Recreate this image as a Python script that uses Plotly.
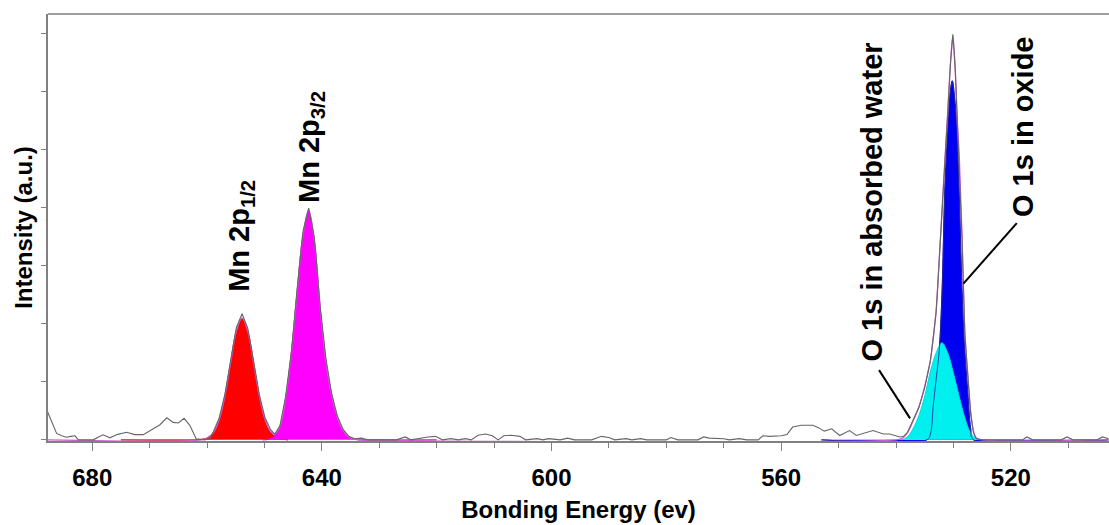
import plotly.graph_objects as go

# ---------------- data ----------------
# raw spectrum (grey line): binding energy (eV) and intensity (a.u.)
raw_energy = [
    687.8, 687.0, 686.2, 685.3, 684.5, 683.7, 683.0, 682.4, 681.0, 679.8,
    678.9, 678.1, 676.9, 675.7, 674.0, 672.6, 671.1, 669.4, 668.2, 667.0,
    665.9, 665.0, 664.0, 663.0, 661.9, 660.5, 659.5,
    658.9, 657.9, 656.9, 655.9, 654.9, 653.9, 652.9, 651.9, 650.9, 649.9,
    648.9, 648.2, 647.3, 646.3, 645.3, 644.3, 643.3, 642.3, 641.3, 640.3,
    639.3, 638.3, 637.3, 636.3, 635.3, 634.3, 633.1, 632.0, 627.0,
    625.5, 624.5, 621.5, 620.2, 619.0, 617.5, 616.2, 615.0, 614.0, 612.8,
    611.5, 610.3, 609.3, 608.3, 607.0, 605.5, 604.5, 602.5, 601.5, 600.5,
    598.5, 597.2, 596.0, 593.0, 591.3, 590.0, 589.0, 587.0, 586.0, 584.5,
    583.4, 580.0, 579.2, 578.0, 574.5, 573.5, 572.5, 571.2, 570.0, 569.0,
    567.3, 566.0, 564.0, 563.2, 562.0, 560.0, 559.0, 558.0, 556.5, 554.5,
    553.5, 552.5, 551.2, 549.8, 548.1, 546.9, 545.2, 544.0, 542.2, 541.1,
    539.3, 538.7, 538.0, 537.0, 536.0, 535.0, 534.0, 533.0, 532.5, 532.0,
    531.5, 531.0, 530.5, 530.1, 529.7, 529.3, 529.0, 528.5, 528.0, 527.5,
    527.0, 526.5, 526.0, 525.0, 521.0, 518.0, 517.2, 516.2, 511.2, 510.2,
    509.2, 505.0, 504.0, 503.0,
]
raw_intensity = [
    0.49, 0.30, 0.11, 0.07, 0.045, 0.06, 0.07, 0.0, 0.0, 0.0,
    0.05, 0.086, 0.034, 0.09, 0.13, 0.09, 0.09, 0.19, 0.26, 0.38,
    0.30, 0.29, 0.37, 0.25, 0.02, 0.0, 0.02,
    0.14, 0.37, 0.78, 1.36, 1.93, 2.17, 1.92, 1.36, 0.78, 0.38,
    0.17, 0.10, 0.24, 0.75, 1.52, 2.60, 3.58, 3.99, 3.47, 2.30,
    1.40, 0.80, 0.41, 0.18, 0.06, 0.02, 0.03, 0.0, 0.0,
    0.05, 0.0, 0.05, 0.06, 0.0, 0.02, 0.0, 0.02, 0.0, 0.08,
    0.10, 0.07, 0.0, 0.07, 0.08, 0.06, 0.0, 0.02, 0.0, 0.02,
    0.0, 0.03, 0.0, 0.0, 0.06, 0.04, 0.0, 0.02, 0.0, 0.02,
    0.0, 0.0, 0.04, 0.0, 0.0, 0.05, 0.03, 0.03, 0.02, 0.0,
    0.02, 0.0, 0.0, 0.07, 0.06, 0.07, 0.09, 0.22, 0.25, 0.25,
    0.21, 0.15, 0.19, 0.075, 0.16, 0.075, 0.13, 0.16, 0.10, 0.10,
    0.05, 0.06, 0.13, 0.34, 0.56, 0.90, 1.36, 2.20, 3.00, 3.88,
    4.72, 5.60, 6.50, 6.98, 6.42, 5.45, 4.90, 3.45, 1.80, 1.05,
    0.45, 0.12, 0.02, 0.0, 0.0, 0.0, 0.05, 0.0, 0.0, 0.05,
    0.0, 0.0, 0.05, 0.02,
]

# fitted envelope (magenta line)
env_energy = [
    688.0, 661.0, 659.9, 658.9, 657.9, 656.9, 655.9, 654.9, 653.9, 652.9,
    651.9, 650.9, 649.9, 648.9, 648.2, 647.3, 646.3, 645.3, 644.3, 643.3,
    642.3, 641.3, 640.3, 639.3, 638.3, 637.3, 636.3, 635.3, 634.3, 633.3,
    540.0, 539.0, 538.0, 537.0, 536.0, 535.0, 534.0, 533.0, 532.5, 532.0,
    531.5, 531.0, 530.5, 530.1, 529.7, 529.3, 529.0, 528.5, 528.0, 527.5,
    527.0, 526.5, 526.0, 525.0, 503.0,
]
env_intensity = [
    0.0, 0.0, 0.035, 0.12, 0.34, 0.75, 1.32, 1.87, 2.10, 1.87,
    1.33, 0.76, 0.35, 0.14, 0.10, 0.23, 0.73, 1.50, 2.55, 3.52,
    3.96, 3.42, 2.27, 1.36, 0.77, 0.39, 0.16, 0.05, 0.01, 0.0,
    0.0, 0.02, 0.12, 0.33, 0.57, 0.92, 1.38, 2.25, 3.05, 3.92,
    4.80, 5.62, 6.50, 6.95, 6.40, 5.45, 4.94, 3.50, 1.85, 1.12,
    0.50, 0.15, 0.03, 0.0, 0.0,
]

# Mn 2p1/2 component (red)
mn12_energy = [675.0, 661.9, 660.9, 659.9, 658.9, 657.9, 656.9, 655.9, 654.9,
               653.9, 652.9, 651.9, 650.9, 649.9, 648.9, 647.9, 646.9, 645.9]
mn12_intensity = [0.0, 0.0, 0.01, 0.035, 0.12, 0.34, 0.75, 1.32, 1.86,
                  2.08, 1.86, 1.32, 0.75, 0.34, 0.12, 0.035, 0.01, 0.0]

# Mn 2p3/2 component (magenta)
mn32_energy = [650.3, 649.3, 648.3, 647.3, 646.3, 645.3, 644.3, 643.3, 642.3,
               641.3, 640.3, 639.3, 638.3, 637.3, 636.3, 635.3, 634.3, 633.3, 620.0]
mn32_intensity = [0.0, 0.01, 0.06, 0.22, 0.72, 1.50, 2.55, 3.50, 3.93,
                  3.40, 2.25, 1.35, 0.76, 0.38, 0.16, 0.05, 0.01, 0.0, 0.0]

# O 1s in oxide component (blue)
oxide_energy = [553.0, 534.6, 534.0, 533.5, 533.0, 532.5, 532.0, 531.5, 531.0, 530.6,
                530.2, 529.8, 529.4, 529.0, 528.5, 528.0, 527.5, 527.0, 526.5, 503.0]
oxide_intensity = [0.0, 0.0, 0.10, 0.60, 1.05, 1.50, 2.50, 4.30, 5.40, 5.95,
                   6.18, 5.90, 5.40, 4.30, 2.60, 1.55, 0.85, 0.20, 0.0, 0.0]

# O 1s in absorbed water component (cyan)
water_energy = [539.0, 538.0, 537.0, 536.0, 535.0, 534.0, 533.0, 532.0,
                531.0, 530.0, 529.0, 528.0, 527.0, 526.0, 525.5]
water_intensity = [0.0, 0.05, 0.20, 0.42, 0.75, 1.18, 1.50, 1.67,
                   1.50, 1.15, 0.75, 0.38, 0.12, 0.02, 0.0]

x_tick_values = [680, 640, 600, 560, 520]
x_tick_labels = ["680", "640", "600", "560", "520"]

# ---------------- figure ----------------
FONT = "Arial, Liberation Sans, Helvetica, sans-serif"
GREY = "#808080"

fig = go.Figure()

fig.add_trace(go.Scatter(x=mn12_energy, y=mn12_intensity, mode="lines",
                         line=dict(color="#E00000", width=1.2, shape="spline"),
                         fill="tozeroy", fillcolor="#FF0000", name="Mn 2p1/2"))
fig.add_trace(go.Scatter(x=mn32_energy, y=mn32_intensity, mode="lines",
                         line=dict(color="#E000E0", width=1.2, shape="spline"),
                         fill="tozeroy", fillcolor="#FF00FF", name="Mn 2p3/2"))
fig.add_trace(go.Scatter(x=oxide_energy, y=oxide_intensity, mode="lines",
                         line=dict(color="#2020C0", width=1, shape="spline"),
                         fill="tozeroy", fillcolor="#0000F0", name="O 1s oxide"))
fig.add_trace(go.Scatter(x=water_energy, y=water_intensity, mode="lines",
                         line=dict(color="#00D8E0", width=1, shape="spline"),
                         fill="tozeroy", fillcolor="#00F0F0", name="O 1s water"))
# outline of the oxide component drawn over the cyan fill
fig.add_trace(go.Scatter(x=oxide_energy, y=oxide_intensity, mode="lines",
                         line=dict(color="#202090", width=0.8, shape="spline"),
                         name="oxide outline"))
fig.add_trace(go.Scatter(x=env_energy, y=env_intensity, mode="lines",
                         line=dict(color="#D060D0", width=1.3, shape="spline"),
                         name="envelope"))
fig.add_trace(go.Scatter(x=raw_energy, y=raw_intensity, mode="lines",
                         line=dict(color="#666666", width=1.1),
                         name="raw"))

fig.update_layout(
    width=1109, height=525,
    margin=dict(l=48, r=0, t=14, b=84),
    paper_bgcolor="white", plot_bgcolor="white",
    showlegend=False,
    font=dict(family=FONT, color="black"),
    xaxis=dict(
        range=[687.7, 502.9],
        tickmode="array", tickvals=x_tick_values, ticktext=x_tick_labels,
        ticks="outside", ticklen=8, tickwidth=1, tickcolor=GREY,
        minor=dict(dtick=10, tick0=0, ticks="outside", ticklen=5,
                   tickwidth=1, tickcolor=GREY, showgrid=False),
        showline=True, linecolor=GREY, linewidth=1.5,
        showgrid=False, zeroline=False,
        tickfont=dict(size=24, family=FONT, weight="bold", color="black"),
        ticklabelstandoff=6,
        title=dict(text="Bonding Energy (ev)", standoff=12,
                   font=dict(size=24, family=FONT, weight="bold", color="black")),
    ),
    yaxis=dict(
        range=[-0.02, 7.33],
        tickmode="linear", tick0=0, dtick=1,
        ticks="outside", ticklen=5, tickwidth=1, tickcolor=GREY,
        showticklabels=False,
        showline=True, linecolor=GREY, linewidth=1.5,
        showgrid=False, zeroline=False,
        title=dict(text="Intensity (a.u.)", standoff=2,
                   font=dict(size=24, family=FONT, weight="bold", color="black")),
    ),
    shapes=[
        dict(type="line", xref="paper", yref="paper", x0=0, x1=1, y0=1, y1=1,
             line=dict(color=GREY, width=1.5)),
        dict(type="line", xref="x", yref="y", x0=542.95, y0=1.20, x1=537.55, y1=0.37,
             line=dict(color="black", width=2)),
        dict(type="line", xref="x", yref="y", x0=518.96, y0=3.73, x1=528.26, y1=2.69,
             line=dict(color="black", width=2)),
    ],
)

ann_font = dict(size=29, family=FONT, weight="bold", color="black")
for text, x, y in [
    ("Mn 2p<sub>1/2</sub>", 654.1, 3.51),
    ("Mn 2p<sub>3/2</sub>", 641.9, 5.04),
    ("O 1s in absorbed water", 544.2, 4.10),
    ("O 1s in oxide", 517.9, 5.40),
]:
    fig.add_annotation(x=x, y=y, xref="x", yref="y", text=text, textangle=-90,
                       showarrow=False, font=ann_font)

fig.write_html("out.html")
